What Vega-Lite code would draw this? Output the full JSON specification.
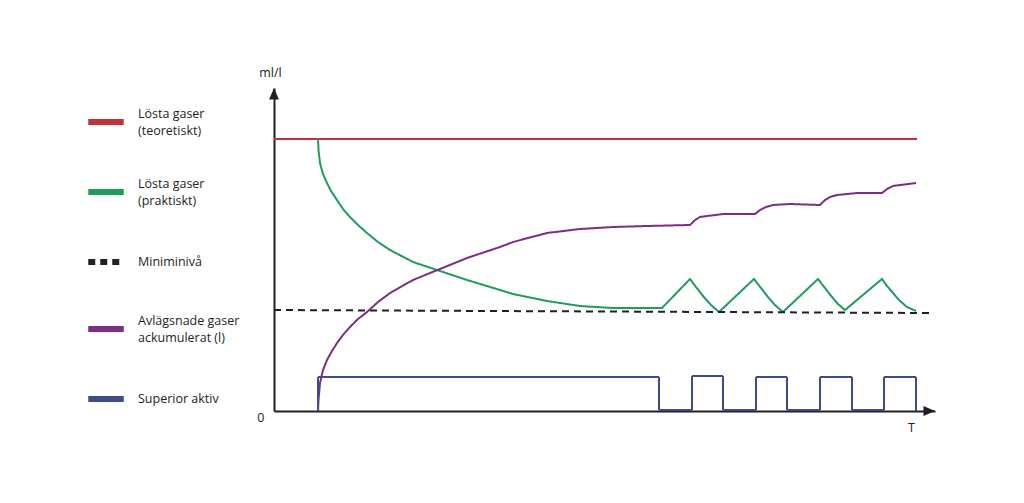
{
  "$schema": "https://vega.github.io/schema/vega-lite/v6.json",
  "width": 661,
  "height": 323,
  "autosize": "none",
  "padding": {"left": 274, "top": 88, "right": 89, "bottom": 92},
  "background": "white",
  "config": {"view": {"stroke": null}, "font": "Open Sans"},
  "datasets": {
    "series": [
      {"series": "Lösta gaser\n(teoretiskt)", "x": 0, "y": 272},
      {"series": "Lösta gaser\n(teoretiskt)", "x": 643, "y": 272},

      {"series": "Lösta gaser\n(praktiskt)", "x": 44, "y": 272},
      {"series": "Lösta gaser\n(praktiskt)", "x": 44.6, "y": 260},
      {"series": "Lösta gaser\n(praktiskt)", "x": 46, "y": 248},
      {"series": "Lösta gaser\n(praktiskt)", "x": 49, "y": 237},
      {"series": "Lösta gaser\n(praktiskt)", "x": 53, "y": 228},
      {"series": "Lösta gaser\n(praktiskt)", "x": 57, "y": 220},
      {"series": "Lösta gaser\n(praktiskt)", "x": 63, "y": 211},
      {"series": "Lösta gaser\n(praktiskt)", "x": 69, "y": 202},
      {"series": "Lösta gaser\n(praktiskt)", "x": 76, "y": 194},
      {"series": "Lösta gaser\n(praktiskt)", "x": 84, "y": 186},
      {"series": "Lösta gaser\n(praktiskt)", "x": 93, "y": 178},
      {"series": "Lösta gaser\n(praktiskt)", "x": 104, "y": 169},
      {"series": "Lösta gaser\n(praktiskt)", "x": 116, "y": 161},
      {"series": "Lösta gaser\n(praktiskt)", "x": 139, "y": 149},
      {"series": "Lösta gaser\n(praktiskt)", "x": 166, "y": 140},
      {"series": "Lösta gaser\n(praktiskt)", "x": 193, "y": 131},
      {"series": "Lösta gaser\n(praktiskt)", "x": 226, "y": 121},
      {"series": "Lösta gaser\n(praktiskt)", "x": 239, "y": 117},
      {"series": "Lösta gaser\n(praktiskt)", "x": 273, "y": 110},
      {"series": "Lösta gaser\n(praktiskt)", "x": 306, "y": 105},
      {"series": "Lösta gaser\n(praktiskt)", "x": 339, "y": 103},
      {"series": "Lösta gaser\n(praktiskt)", "x": 388, "y": 103},
      {"series": "Lösta gaser\n(praktiskt)", "x": 416, "y": 132},
      {"series": "Lösta gaser\n(praktiskt)", "x": 422, "y": 124},
      {"series": "Lösta gaser\n(praktiskt)", "x": 429, "y": 115},
      {"series": "Lösta gaser\n(praktiskt)", "x": 437, "y": 106},
      {"series": "Lösta gaser\n(praktiskt)", "x": 445, "y": 99},
      {"series": "Lösta gaser\n(praktiskt)", "x": 480, "y": 132},
      {"series": "Lösta gaser\n(praktiskt)", "x": 487, "y": 123},
      {"series": "Lösta gaser\n(praktiskt)", "x": 494, "y": 114},
      {"series": "Lösta gaser\n(praktiskt)", "x": 501, "y": 106},
      {"series": "Lösta gaser\n(praktiskt)", "x": 509, "y": 99},
      {"series": "Lösta gaser\n(praktiskt)", "x": 544, "y": 132},
      {"series": "Lösta gaser\n(praktiskt)", "x": 551, "y": 123},
      {"series": "Lösta gaser\n(praktiskt)", "x": 558, "y": 114},
      {"series": "Lösta gaser\n(praktiskt)", "x": 564, "y": 107},
      {"series": "Lösta gaser\n(praktiskt)", "x": 571, "y": 101},
      {"series": "Lösta gaser\n(praktiskt)", "x": 608, "y": 132},
      {"series": "Lösta gaser\n(praktiskt)", "x": 613, "y": 125},
      {"series": "Lösta gaser\n(praktiskt)", "x": 619, "y": 118},
      {"series": "Lösta gaser\n(praktiskt)", "x": 626, "y": 110},
      {"series": "Lösta gaser\n(praktiskt)", "x": 633, "y": 104},
      {"series": "Lösta gaser\n(praktiskt)", "x": 642, "y": 100},

      {"series": "Miniminivå", "x": 0, "y": 101},
      {"series": "Miniminivå", "x": 656, "y": 98},

      {"series": "Avlägsnade gaser\nackumulerat (l)", "x": 44, "y": 0},
      {"series": "Avlägsnade gaser\nackumulerat (l)", "x": 44.5, "y": 11},
      {"series": "Avlägsnade gaser\nackumulerat (l)", "x": 46, "y": 28},
      {"series": "Avlägsnade gaser\nackumulerat (l)", "x": 49, "y": 41},
      {"series": "Avlägsnade gaser\nackumulerat (l)", "x": 53, "y": 51},
      {"series": "Avlägsnade gaser\nackumulerat (l)", "x": 58, "y": 60},
      {"series": "Avlägsnade gaser\nackumulerat (l)", "x": 63, "y": 68},
      {"series": "Avlägsnade gaser\nackumulerat (l)", "x": 69, "y": 76},
      {"series": "Avlägsnade gaser\nackumulerat (l)", "x": 76, "y": 84},
      {"series": "Avlägsnade gaser\nackumulerat (l)", "x": 84, "y": 92},
      {"series": "Avlägsnade gaser\nackumulerat (l)", "x": 93, "y": 99},
      {"series": "Avlägsnade gaser\nackumulerat (l)", "x": 104, "y": 109},
      {"series": "Avlägsnade gaser\nackumulerat (l)", "x": 116, "y": 118},
      {"series": "Avlägsnade gaser\nackumulerat (l)", "x": 139, "y": 131},
      {"series": "Avlägsnade gaser\nackumulerat (l)", "x": 166, "y": 142},
      {"series": "Avlägsnade gaser\nackumulerat (l)", "x": 193, "y": 153},
      {"series": "Avlägsnade gaser\nackumulerat (l)", "x": 226, "y": 164},
      {"series": "Avlägsnade gaser\nackumulerat (l)", "x": 239, "y": 169},
      {"series": "Avlägsnade gaser\nackumulerat (l)", "x": 273, "y": 178},
      {"series": "Avlägsnade gaser\nackumulerat (l)", "x": 306, "y": 182},
      {"series": "Avlägsnade gaser\nackumulerat (l)", "x": 339, "y": 184},
      {"series": "Avlägsnade gaser\nackumulerat (l)", "x": 373, "y": 185},
      {"series": "Avlägsnade gaser\nackumulerat (l)", "x": 416, "y": 186},
      {"series": "Avlägsnade gaser\nackumulerat (l)", "x": 421, "y": 191},
      {"series": "Avlägsnade gaser\nackumulerat (l)", "x": 426, "y": 194},
      {"series": "Avlägsnade gaser\nackumulerat (l)", "x": 433, "y": 195},
      {"series": "Avlägsnade gaser\nackumulerat (l)", "x": 449, "y": 197},
      {"series": "Avlägsnade gaser\nackumulerat (l)", "x": 481, "y": 197},
      {"series": "Avlägsnade gaser\nackumulerat (l)", "x": 486, "y": 201},
      {"series": "Avlägsnade gaser\nackumulerat (l)", "x": 492, "y": 204},
      {"series": "Avlägsnade gaser\nackumulerat (l)", "x": 499, "y": 206},
      {"series": "Avlägsnade gaser\nackumulerat (l)", "x": 516, "y": 207},
      {"series": "Avlägsnade gaser\nackumulerat (l)", "x": 546, "y": 206},
      {"series": "Avlägsnade gaser\nackumulerat (l)", "x": 551, "y": 211},
      {"series": "Avlägsnade gaser\nackumulerat (l)", "x": 556, "y": 214},
      {"series": "Avlägsnade gaser\nackumulerat (l)", "x": 563, "y": 216},
      {"series": "Avlägsnade gaser\nackumulerat (l)", "x": 583, "y": 218},
      {"series": "Avlägsnade gaser\nackumulerat (l)", "x": 608, "y": 218},
      {"series": "Avlägsnade gaser\nackumulerat (l)", "x": 613, "y": 222},
      {"series": "Avlägsnade gaser\nackumulerat (l)", "x": 619, "y": 225},
      {"series": "Avlägsnade gaser\nackumulerat (l)", "x": 626, "y": 226},
      {"series": "Avlägsnade gaser\nackumulerat (l)", "x": 642, "y": 228},

      {"series": "Superior aktiv", "x": 44, "y": 0},
      {"series": "Superior aktiv", "x": 44, "y": 34},
      {"series": "Superior aktiv", "x": 385, "y": 34},
      {"series": "Superior aktiv", "x": 385, "y": 1},
      {"series": "Superior aktiv", "x": 418, "y": 1},
      {"series": "Superior aktiv", "x": 418, "y": 35},
      {"series": "Superior aktiv", "x": 449, "y": 35},
      {"series": "Superior aktiv", "x": 449, "y": 1},
      {"series": "Superior aktiv", "x": 482, "y": 1},
      {"series": "Superior aktiv", "x": 482, "y": 34},
      {"series": "Superior aktiv", "x": 513, "y": 34},
      {"series": "Superior aktiv", "x": 513, "y": 1},
      {"series": "Superior aktiv", "x": 546, "y": 1},
      {"series": "Superior aktiv", "x": 546, "y": 34},
      {"series": "Superior aktiv", "x": 578, "y": 34},
      {"series": "Superior aktiv", "x": 578, "y": 1},
      {"series": "Superior aktiv", "x": 610, "y": 1},
      {"series": "Superior aktiv", "x": 610, "y": 34},
      {"series": "Superior aktiv", "x": 642, "y": 34},
      {"series": "Superior aktiv", "x": 642, "y": 0}
    ]
  },
  "layer": [
    {
      "data": {"name": "series"},
      "mark": {"type": "line", "strokeWidth": 2},
      "encoding": {
        "x": {
          "field": "x", "type": "quantitative",
          "scale": {"domain": [0, 661], "nice": false, "zero": false},
          "axis": {
            "domain": true, "domainColor": "#231f20", "domainWidth": 2,
            "ticks": false, "labels": false, "grid": false,
            "title": "T", "titleX": 637, "titleY": 16, "titleBaseline": "middle",
            "titleAlign": "center", "titleFontWeight": "normal", "titleFontSize": 12.5,
            "titleFont": "Open Sans", "titleColor": "#231f20"
          }
        },
        "y": {
          "field": "y", "type": "quantitative",
          "scale": {"domain": [0, 323], "nice": false, "zero": false},
          "axis": {
            "domain": true, "domainColor": "#231f20", "domainWidth": 2,
            "ticks": false, "grid": false, "values": [0],
            "labelPadding": 10, "labelOffset": 6, "labelFontSize": 12.5, "labelColor": "#231f20",
            "labelFont": "Open Sans",
            "title": "ml/l", "titleAngle": 0, "titleX": -4, "titleY": -16,
            "titleAlign": "center", "titleBaseline": "middle", "titleFontWeight": "normal",
            "titleFontSize": 12.5, "titleFont": "Open Sans", "titleColor": "#231f20"
          }
        },
        "color": {
          "field": "series", "type": "nominal",
          "scale": {
            "domain": ["Lösta gaser\n(teoretiskt)", "Lösta gaser\n(praktiskt)", "Miniminivå", "Avlägsnade gaser\nackumulerat (l)", "Superior aktiv"],
            "range": ["#c1323c", "#1e9c5c", "#231f20", "#7d2d84", "#3f4b8c"]
          },
          "legend": {
            "title": null, "orient": "none", "legendX": -189, "legendY": 13,
            "symbolType": "stroke", "symbolSize": 1260, "symbolStrokeWidth": 6,
            "labelOffset": 11, "labelFontSize": 12.5, "labelFont": "Open Sans", "labelColor": "#231f20",
            "labelLimit": 300, "rowPadding": 34,
            "labelExpr": "split(datum.label, '\\n')",
            "encode": {
              "labels": {"update": {"lineHeight": {"value": 17}, "dy": {"signal": "indexof(datum.value, '\\n') >= 0 ? -8.5 : 0"}}},
              "symbols": {"update": {"strokeWidth": {"value": 6}}}
            }
          }
        },
        "strokeDash": {
          "field": "series", "type": "nominal",
          "scale": {
            "domain": ["Lösta gaser\n(teoretiskt)", "Lösta gaser\n(praktiskt)", "Miniminivå", "Avlägsnade gaser\nackumulerat (l)", "Superior aktiv"],
            "range": [[1, 0], [1, 0], [7, 5], [1, 0], [1, 0]]
          },
          "legend": {
            "title": null, "orient": "none", "legendX": -189, "legendY": 13,
            "symbolType": "stroke", "symbolSize": 1260, "symbolStrokeWidth": 6,
            "labelOffset": 11, "labelFontSize": 12.5, "labelFont": "Open Sans", "labelColor": "#231f20",
            "labelLimit": 300, "rowPadding": 34,
            "labelExpr": "split(datum.label, '\\n')",
            "encode": {
              "labels": {"update": {"lineHeight": {"value": 17}, "dy": {"signal": "indexof(datum.value, '\\n') >= 0 ? -8.5 : 0"}}},
              "symbols": {"update": {"strokeWidth": {"value": 6}}}
            }
          }
        },
        "order": {"value": null}
      }
    },
    {
      "data": {"values": [{}]},
      "mark": {"type": "point", "shape": "M0,0L-0.9,2.1L0.9,2.1Z", "size": 121, "filled": true, "color": "#231f20", "opacity": 1},
      "encoding": {
        "x": {
          "datum": 0, "type": "quantitative",
          "axis": {
            "domain": true, "domainColor": "#231f20", "domainWidth": 2,
            "ticks": false, "labels": false, "grid": false,
            "title": "T", "titleX": 637, "titleY": 16, "titleBaseline": "middle",
            "titleAlign": "center", "titleFontWeight": "normal", "titleFontSize": 12.5,
            "titleFont": "Open Sans", "titleColor": "#231f20"
          }
        },
        "y": {
          "datum": 323, "type": "quantitative",
          "axis": {
            "domain": true, "domainColor": "#231f20", "domainWidth": 2,
            "ticks": false, "grid": false, "values": [0],
            "labelPadding": 10, "labelOffset": 6, "labelFontSize": 12.5, "labelColor": "#231f20",
            "labelFont": "Open Sans",
            "title": "ml/l", "titleAngle": 0, "titleX": -4, "titleY": -16,
            "titleAlign": "center", "titleBaseline": "middle", "titleFontWeight": "normal",
            "titleFontSize": 12.5, "titleFont": "Open Sans", "titleColor": "#231f20"
          }
        }
      }
    },
    {
      "data": {"values": [{}]},
      "mark": {"type": "point", "shape": "M0,0L-2.1,-0.9L-2.1,0.9Z", "size": 121, "filled": true, "color": "#231f20", "opacity": 1},
      "encoding": {
        "x": {
          "datum": 661, "type": "quantitative",
          "axis": {
            "domain": true, "domainColor": "#231f20", "domainWidth": 2,
            "ticks": false, "labels": false, "grid": false,
            "title": "T", "titleX": 637, "titleY": 16, "titleBaseline": "middle",
            "titleAlign": "center", "titleFontWeight": "normal", "titleFontSize": 12.5,
            "titleFont": "Open Sans", "titleColor": "#231f20"
          }
        },
        "y": {
          "datum": 0, "type": "quantitative",
          "axis": {
            "domain": true, "domainColor": "#231f20", "domainWidth": 2,
            "ticks": false, "grid": false, "values": [0],
            "labelPadding": 10, "labelOffset": 6, "labelFontSize": 12.5, "labelColor": "#231f20",
            "labelFont": "Open Sans",
            "title": "ml/l", "titleAngle": 0, "titleX": -4, "titleY": -16,
            "titleAlign": "center", "titleBaseline": "middle", "titleFontWeight": "normal",
            "titleFontSize": 12.5, "titleFont": "Open Sans", "titleColor": "#231f20"
          }
        }
      }
    }
  ]
}
